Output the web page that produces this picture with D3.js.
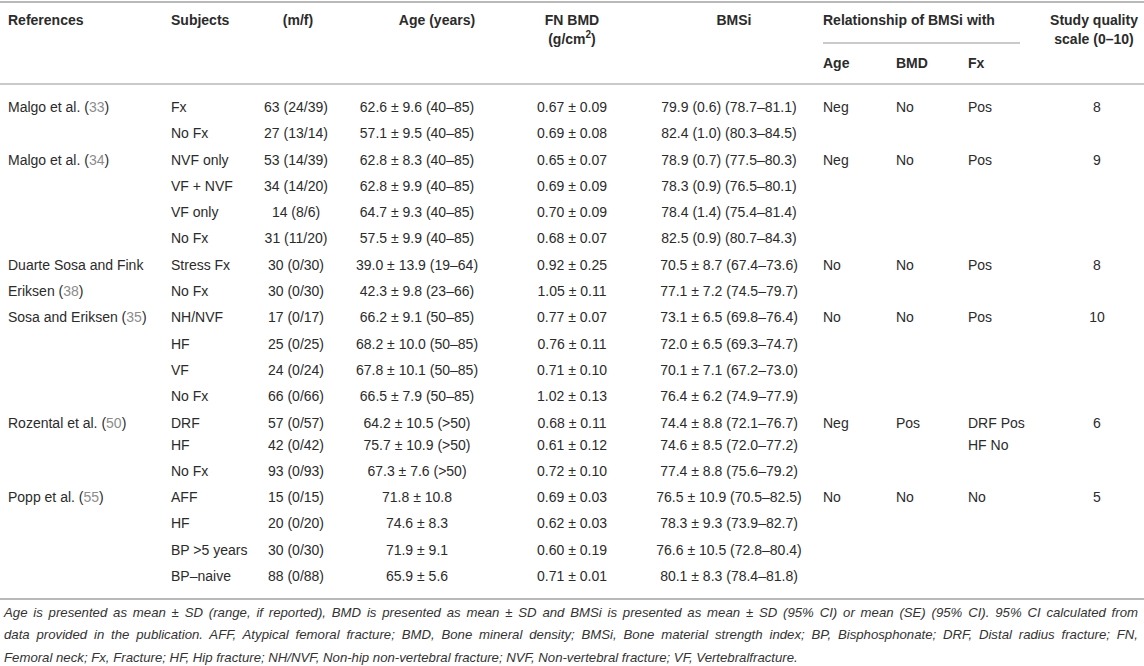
<!DOCTYPE html>
<html>
<head>
<meta charset="utf-8">
<script src="https://cdn.jsdelivr.net/npm/d3@7"></script>
<style>
  body { margin: 0; background: #fff; }
  svg { display: block; font-family: "Liberation Sans", Arial, sans-serif; }
</style>
</head>
<body>
<div id="table"></div>
<script>
// Studies (one per block of rows)
const studies = ["Malgo et al.", "Malgo et al.", "Duarte Sosa and Fink\nEriksen", "Sosa and Eriksen", "Rozental et al.", "Popp et al."];
const refNums = ["33", "34", "38", "35", "50", "55"];
const groupSizes = [2, 4, 2, 4, 3, 4];
const relAge = ["Neg", "Neg", "No", "No", "Neg", "No"];
const relBmd = ["No", "No", "No", "No", "Pos", "No"];
const relFx = ["Pos", "Pos", "Pos", "Pos", "DRF Pos\nHF No", "No"];
const quality = ["8", "9", "8", "10", "6", "5"];

// Per-subject rows
const subjects = ["Fx", "No Fx", "NVF only", "VF + NVF", "VF only", "No Fx", "Stress Fx", "No Fx",
  "NH/NVF", "HF", "VF", "No Fx", "DRF", "HF", "No Fx", "AFF", "HF", "BP >5 years", "BP–naive"];
const mf = ["63 (24/39)", "27 (13/14)", "53 (14/39)", "34 (14/20)", "14 (8/6)", "31 (11/20)", "30 (0/30)", "30 (0/30)",
  "17 (0/17)", "25 (0/25)", "24 (0/24)", "66 (0/66)", "57 (0/57)", "42 (0/42)", "93 (0/93)", "15 (0/15)", "20 (0/20)", "30 (0/30)", "88 (0/88)"];
const ageYears = ["62.6 ± 9.6 (40–85)", "57.1 ± 9.5 (40–85)", "62.8 ± 8.3 (40–85)", "62.8 ± 9.9 (40–85)", "64.7 ± 9.3 (40–85)",
  "57.5 ± 9.9 (40–85)", "39.0 ± 13.9 (19–64)", "42.3 ± 9.8 (23–66)", "66.2 ± 9.1 (50–85)", "68.2 ± 10.0 (50–85)",
  "67.8 ± 10.1 (50–85)", "66.5 ± 7.9 (50–85)", "64.2 ± 10.5 (>50)", "75.7 ± 10.9 (>50)", "67.3 ± 7.6 (>50)",
  "71.8 ± 10.8", "74.6 ± 8.3", "71.9 ± 9.1", "65.9 ± 5.6"];
const fnBmd = ["0.67 ± 0.09", "0.69 ± 0.08", "0.65 ± 0.07", "0.69 ± 0.09", "0.70 ± 0.09", "0.68 ± 0.07", "0.92 ± 0.25",
  "1.05 ± 0.11", "0.77 ± 0.07", "0.76 ± 0.11", "0.71 ± 0.10", "1.02 ± 0.13", "0.68 ± 0.11", "0.61 ± 0.12",
  "0.72 ± 0.10", "0.69 ± 0.03", "0.62 ± 0.03", "0.60 ± 0.19", "0.71 ± 0.01"];
const bmsi = ["79.9 (0.6) (78.7–81.1)", "82.4 (1.0) (80.3–84.5)", "78.9 (0.7) (77.5–80.3)", "78.3 (0.9) (76.5–80.1)",
  "78.4 (1.4) (75.4–81.4)", "82.5 (0.9) (80.7–84.3)", "70.5 ± 8.7 (67.4–73.6)", "77.1 ± 7.2 (74.5–79.7)",
  "73.1 ± 6.5 (69.8–76.4)", "72.0 ± 6.5 (69.3–74.7)", "70.1 ± 7.1 (67.2–73.0)", "76.4 ± 6.2 (74.9–77.9)",
  "74.4 ± 8.8 (72.1–76.7)", "74.6 ± 8.5 (72.0–77.2)", "77.4 ± 8.8 (75.6–79.2)", "76.5 ± 10.9 (70.5–82.5)",
  "78.3 ± 9.3 (73.9–82.7)", "76.6 ± 10.5 (72.8–80.4)", "80.1 ± 8.3 (78.4–81.8)"];

const footnote = [
  "Age is presented as mean ± SD (range, if reported), BMD is presented as mean ± SD and BMSi is presented as mean ± SD (95% CI) or mean (SE) (95% CI). 95% CI calculated from",
  "data provided in the publication. AFF, Atypical femoral fracture; BMD, Bone mineral density; BMSi, Bone material strength index; BP, Bisphosphonate; DRF, Distal radius fracture; FN,",
  "Femoral neck; Fx, Fracture; HF, Hip fracture; NH/NVF, Non-hip non-vertebral fracture; NVF, Non-vertebral fracture; VF, Vertebralfracture."
];

const width = 1144, height = 666;
const textColor = "#2b2b2b", ruleColor = "#b9b9b9", refColor = "#8c8c8c";

const svg = d3.select("#table").append("svg")
  .attr("width", width)
  .attr("height", height)
  .style("font-size", "14px");

// Row positions: cumulative steps (one shorter row where the Rozental cell wraps)
const rowSteps = subjects.map((d, i) => i === 13 ? 22 : 26.3);
const rowY = [];
rowSteps.reduce((acc, s, i) => { rowY[i] = i === 0 ? 107 : acc + s; return rowY[i]; }, 0);
const y = d3.scaleOrdinal().domain(d3.range(subjects.length)).range(rowY);

// First row index of each study block
const groupStart = d3.cumsum([0, ...groupSizes]).slice(0, groupSizes.length);

// Horizontal rules
const rules = [
  { x1: 0, x2: width, y: 2, w: 2 },
  { x1: 823, x2: 1020, y: 43, w: 1.5 },
  { x1: 0, x2: width, y: 84, w: 1.5 },
  { x1: 0, x2: width, y: 599, w: 2 }
];
svg.selectAll("line.rule").data(rules).join("line")
  .attr("class", "rule")
  .attr("x1", d => d.x1).attr("x2", d => d.x2)
  .attr("y1", d => d.y).attr("y2", d => d.y)
  .attr("stroke", ruleColor).attr("stroke-width", d => d.w);

// Header
const headers = [
  { t: "References", x: 8, y: 20, a: "start" },
  { t: "Subjects", x: 171, y: 20, a: "start" },
  { t: "(m/f)", x: 298, y: 20, a: "middle" },
  { t: "Age (years)", x: 437, y: 20, a: "middle" },
  { t: "FN BMD", x: 572, y: 20, a: "middle" },
  { t: "BMSi", x: 734, y: 20, a: "middle" },
  { t: "Relationship of BMSi with", x: 823, y: 20, a: "start" },
  { t: "Study quality", x: 1094, y: 20, a: "middle" },
  { t: "scale (0–10)", x: 1094, y: 39, a: "middle" },
  { t: "Age", x: 823, y: 63, a: "start" },
  { t: "BMD", x: 896, y: 63, a: "start" },
  { t: "Fx", x: 968, y: 63, a: "start" }
];
svg.append("g").selectAll("text").data(headers).join("text")
  .attr("x", d => d.x).attr("y", d => d.y).attr("dy", "0.35em")
  .attr("text-anchor", d => d.a)
  .attr("font-weight", "bold")
  .attr("fill", textColor)
  .text(d => d.t);

const unit = svg.append("text")
  .attr("x", 572).attr("y", 39).attr("dy", "0.35em")
  .attr("text-anchor", "middle").attr("font-weight", "bold").attr("fill", textColor);
unit.append("tspan").text("(g/cm");
unit.append("tspan").attr("font-size", "10px").attr("dy", "-0.6em").text("2");
unit.append("tspan").attr("dy", "0.45em").text(")");

// Per-row columns
const rowCols = [
  { data: subjects, x: 171, a: "start" },
  { data: mf, x: 296, a: "middle" },
  { data: ageYears, x: 417, a: "middle" },
  { data: fnBmd, x: 572, a: "middle" },
  { data: bmsi, x: 729, a: "middle" }
];
rowCols.forEach(col => {
  svg.append("g").selectAll("text").data(col.data).join("text")
    .attr("x", col.x).attr("y", (d, i) => y(i)).attr("dy", "0.35em")
    .attr("text-anchor", col.a)
    .attr("fill", textColor)
    .text(d => d);
});

// Per-study columns (multi-line cells put each line on the next row)
const studyCols = [
  { data: relAge, x: 823, a: "start" },
  { data: relBmd, x: 896, a: "start" },
  { data: relFx, x: 968, a: "start" },
  { data: quality, x: 1097, a: "middle" }
];
studyCols.forEach(col => {
  col.data.forEach((v, g) => {
    v.split("\n").forEach((line, k) => {
      svg.append("text")
        .attr("x", col.x).attr("y", y(groupStart[g] + k)).attr("dy", "0.35em")
        .attr("text-anchor", col.a).attr("fill", textColor)
        .text(line);
    });
  });
});

// References with grey citation numbers
studies.forEach((name, g) => {
  const lines = name.split("\n");
  lines.forEach((line, k) => {
    const t = svg.append("text")
      .attr("x", 8).attr("y", y(groupStart[g] + k)).attr("dy", "0.35em")
      .attr("fill", textColor);
    t.append("tspan").text(line);
    if (k === lines.length - 1) {
      t.append("tspan").text(" (");
      t.append("tspan").attr("fill", refColor).text(refNums[g]);
      t.append("tspan").text(")");
    }
  });
});

// Footnote: italic, justified except the last line
const footX = 4, footRight = 1138, lastLineEnd = 845;
const foot = svg.append("g")
  .attr("font-style", "italic")
  .attr("font-size", "12px")
  .attr("fill", "#333");
const footText = foot.selectAll("text").data(footnote).join("text")
  .attr("x", footX).attr("y", (d, i) => 612 + i * 22.5).attr("dy", "0.35em")
  .text(d => d);

// size the font so the last (unjustified) line ends where the reference's does
const lastNode = footText.nodes()[footnote.length - 1];
const footSize = Math.min(13.2, 12 * (lastLineEnd - footX) / lastNode.getComputedTextLength());
foot.attr("font-size", footSize + "px");
footText.each(function(d, i) {
  if (i === footnote.length - 1) return;
  const spaces = d.split(" ").length - 1;
  const extra = footRight - footX - this.getComputedTextLength();
  if (extra > 0) d3.select(this).attr("word-spacing", extra / spaces);
});
</script>
</body>
</html>
